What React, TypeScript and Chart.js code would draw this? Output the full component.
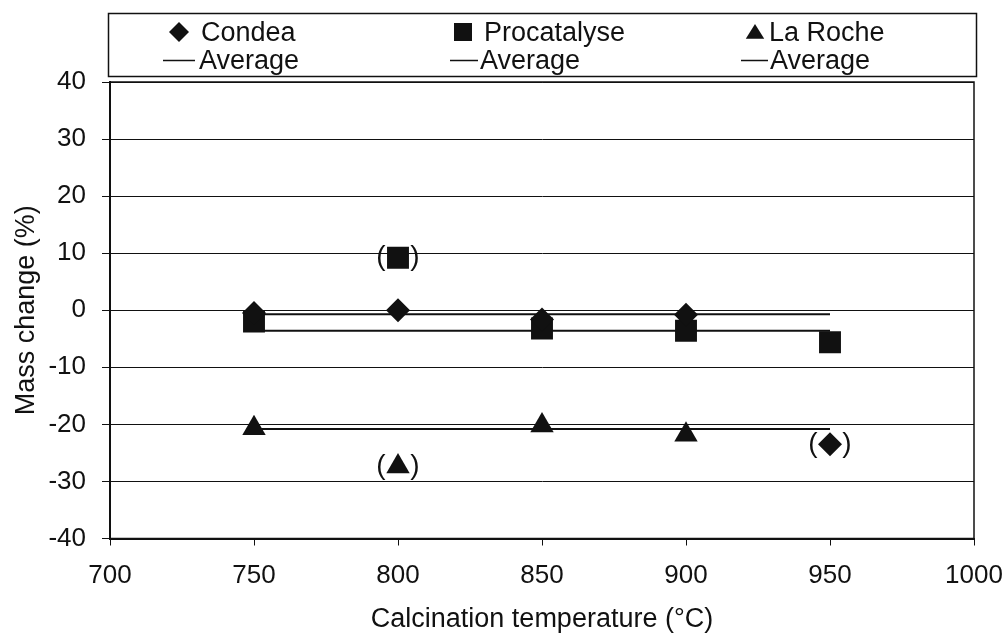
import React, { useEffect, useRef } from "react";
import { Chart, registerables } from "chart.js";

Chart.register(...registerables);

// ---- data ----
const temperatures = [750, 800, 850, 900, 950];
const condea = [-0.5, 0.0, -1.6, -0.8, -23.5];
const procatalyse = [-2.0, 9.2, -3.2, -3.6, -5.6];
const laRocheTemperatures = [750, 800, 850, 900];
const laRoche = [-20.7, -27.4, -20.2, -21.8];
// indices of points shown in parentheses (excluded from the average)
const condeaBracketed = [4];
const procatalyseBracketed = [1];
const laRocheBracketed = [1];
const averageSpan = [750, 950];
const condeaAverage = -0.7;
const procatalyseAverage = -3.6;
const laRocheAverage = -20.8;
const xTicks = [700, 750, 800, 850, 900, 950, 1000];
const yTicks = [-40, -30, -20, -10, 0, 10, 20, 30, 40];
const seriesNames = ["Condea", "Procatalyse", "La Roche"];
const averageLabel = "Average";
const xTitle = "Calcination temperature (°C)";
const yTitle = "Mass change (%)";

const FONT = "'Liberation Sans', Arial, Helvetica, sans-serif";
const INK = "#111111";

function drawMarker(ctx: CanvasRenderingContext2D, style: string, x: number, y: number, r: number) {
  ctx.beginPath();
  if (style === "rectRot") {
    ctx.moveTo(x - r, y);
    ctx.lineTo(x, y - r);
    ctx.lineTo(x + r, y);
    ctx.lineTo(x, y + r);
  } else if (style === "rect") {
    ctx.rect(x - r, y - r, 2 * r, 2 * r);
  } else {
    const w = r * 1.15;
    ctx.moveTo(x, y - r);
    ctx.lineTo(x + w, y + r * 0.85);
    ctx.lineTo(x - w, y + r * 0.85);
  }
  ctx.closePath();
  ctx.fill();
}

const framePlugin = {
  id: "frame",
  afterDatasetsDraw(chart: any) {
    const { ctx, chartArea } = chart;
    ctx.save();
    ctx.strokeStyle = INK;
    ctx.lineWidth = 1.5;
    ctx.strokeRect(chartArea.left, chartArea.top, chartArea.right - chartArea.left, chartArea.bottom - chartArea.top);
    ctx.restore();
  },
};

const parenPlugin = {
  id: "parens",
  afterDatasetsDraw(chart: any) {
    const { ctx } = chart;
    ctx.save();
    ctx.fillStyle = INK;
    ctx.font = `28px ${FONT}`;
    ctx.textAlign = "center";
    ctx.textBaseline = "middle";
    chart.data.datasets.forEach((ds: any, i: number) => {
      if (!ds.bracketed) return;
      const meta = chart.getDatasetMeta(i);
      ds.bracketed.forEach((idx: number) => {
        const el = meta.data[idx];
        if (!el) return;
        ctx.fillText("(", el.x - 17, el.y);
        ctx.fillText(")", el.x + 17, el.y);
      });
    });
    ctx.restore();
  },
};

const legendPlugin = {
  id: "boxLegend",
  afterDraw(chart: any) {
    const { ctx } = chart;
    const cols = [
      { marker: 179, text: 201, line: [163, 195], avg: 199, style: "rectRot", r: 10 },
      { marker: 463, text: 484, line: [450, 478], avg: 480, style: "rect", r: 9 },
      { marker: 755, text: 769, line: [741, 768], avg: 770, style: "triangle", r: 8 },
    ];
    ctx.save();
    ctx.fillStyle = "#ffffff";
    ctx.fillRect(108, 13, 869, 64);
    ctx.strokeStyle = INK;
    ctx.lineWidth = 1.5;
    ctx.strokeRect(108.5, 13.5, 868, 63);
    ctx.fillStyle = INK;
    ctx.font = `27px ${FONT}`;
    ctx.textAlign = "left";
    ctx.textBaseline = "alphabetic";
    cols.forEach((c, i) => {
      drawMarker(ctx, c.style, c.marker, 32, c.r);
      ctx.fillText(seriesNames[i], c.text, 41);
      ctx.beginPath();
      ctx.lineWidth = 1.5;
      ctx.moveTo(c.line[0], 60.5);
      ctx.lineTo(c.line[1], 60.5);
      ctx.stroke();
      ctx.fillText(averageLabel, c.avg, 69);
    });
    ctx.restore();
  },
};

export default function App() {
  const ref = useRef<HTMLCanvasElement>(null);

  useEffect(() => {
    const canvas = ref.current;
    if (!canvas) return;
    const avgLine = (label: string, value: number) => ({
      type: "line" as const,
      label,
      data: averageSpan.map((x) => ({ x, y: value })),
      borderColor: INK,
      backgroundColor: INK,
      borderWidth: 2,
      pointRadius: 0,
      fill: false,
      showLine: true,
    });
    const chart = new Chart(canvas, {
      type: "scatter",
      data: {
        datasets: [
          {
            label: seriesNames[0],
            data: temperatures.map((x, i) => ({ x, y: condea[i] })),
            pointStyle: "rectRot",
            pointRadius: 12,
            backgroundColor: INK,
            borderColor: INK,
            borderWidth: 0,
            bracketed: condeaBracketed,
          } as any,
          {
            label: seriesNames[1],
            data: temperatures.map((x, i) => ({ x, y: procatalyse[i] })),
            pointStyle: "rect",
            pointRadius: 15.5,
            backgroundColor: INK,
            borderColor: INK,
            borderWidth: 0,
            bracketed: procatalyseBracketed,
          } as any,
          {
            label: seriesNames[2],
            data: laRocheTemperatures.map((x, i) => ({ x, y: laRoche[i] })),
            pointStyle: "triangle",
            pointRadius: 13.5,
            backgroundColor: INK,
            borderColor: INK,
            borderWidth: 0,
            bracketed: laRocheBracketed,
          } as any,
          avgLine(averageLabel, condeaAverage),
          avgLine(averageLabel, procatalyseAverage),
          avgLine(averageLabel, laRocheAverage),
        ],
      },
      options: {
        responsive: false,
        animation: false,
        devicePixelRatio: 1,
        layout: { padding: { left: 0, top: 82, right: 34, bottom: 0 } },
        plugins: { legend: { display: false }, tooltip: { enabled: false } },
        scales: {
          x: {
            type: "linear",
            min: 700,
            max: 1000,
            afterBuildTicks: (s: any) => {
              s.ticks = xTicks.map((v) => ({ value: v }));
            },
            afterFit: (s: any) => {
              s.height = 97.5;
              s.paddingLeft = 0;
              s.paddingRight = 0;
            },
            grid: { drawOnChartArea: false, drawTicks: true, tickLength: 7, color: INK, lineWidth: 1 },
            border: { color: INK, width: 2 },
            ticks: {
              font: { family: FONT, size: 26 },
              color: INK,
              padding: 15,
              maxRotation: 0,
              callback: (v: any) => String(v),
            },
            title: {
              display: true,
              text: xTitle,
              font: { family: FONT, size: 27 },
              color: INK,
              padding: { top: 0, bottom: 0 },
            },
          },
          y: {
            type: "linear",
            min: -40,
            max: 40,
            afterBuildTicks: (s: any) => {
              s.ticks = yTicks.map((v) => ({ value: v }));
            },
            afterFit: (s: any) => {
              s.width = 110;
            },
            grid: { color: INK, lineWidth: 1, tickLength: 8 },
            border: { color: INK, width: 2 },
            ticks: {
              font: { family: FONT, size: 26 },
              color: INK,
              padding: 16,
              callback: (v: any) => String(v),
            },
            title: {
              display: true,
              text: yTitle,
              font: { family: FONT, size: 27 },
              color: INK,
              padding: { top: 10, bottom: 0 },
            },
          },
        },
      } as any,
      plugins: [framePlugin, parenPlugin, legendPlugin],
    });
    return () => chart.destroy();
  }, []);

  return (
    <div style={{ position: "absolute", left: 0, top: 0, width: 1008, height: 636, background: "#fff" }}>
      <canvas ref={ref} width={1008} height={636} />
    </div>
  );
}
